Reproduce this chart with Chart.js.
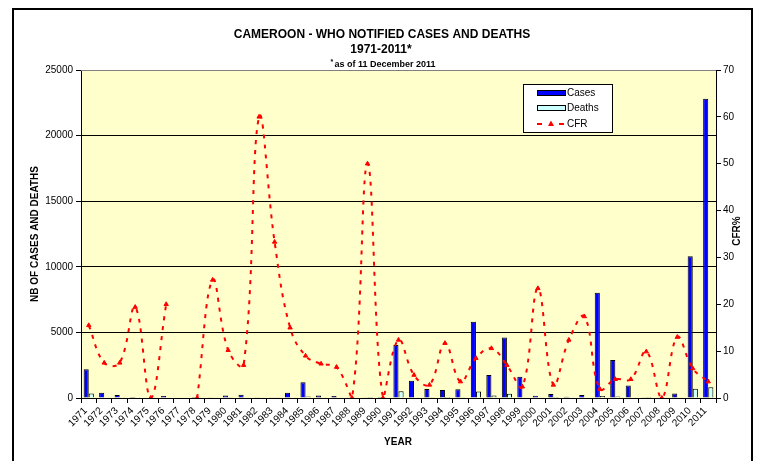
<!DOCTYPE html>
<html>
<head>
<meta charset="utf-8">
<script src="https://cdn.jsdelivr.net/npm/chart.js@4/dist/chart.umd.min.js"></script>
<style>
html,body{margin:0;padding:0;background:#fff;}
#wrap{width:758px;height:461px;position:relative;}
</style>
</head>
<body>
<div id="wrap"><canvas id="c" width="758" height="461"></canvas></div>
<script>
const years = ['1971','1972','1973','1974','1975','1976','1977','1978','1979','1980','1981','1982','1983','1984','1985','1986','1987','1988','1989','1990','1991','1992','1993','1994','1995','1996','1997','1998','1999','2000','2001','2002','2003','2004','2005','2006','2007','2008','2009','2010','2011'];
const cases = [2200,400,230,80,30,150,0,5,50,200,250,20,60,400,1200,200,150,20,10,5,4040,1320,690,610,660,5820,1750,4620,1620,180,300,100,230,8030,2900,960,20,10,350,10800,22800];
const deaths = [340,30,17,16,0,30,0,0,12,20,18,12,20,60,108,15,10,0,5,0,510,65,20,70,23,500,185,325,38,42,8,12,40,150,115,38,2,0,45,700,820];
const cfr = [15.5,7.5,7.5,19.4,0,20,null,0,25.2,10.2,7.0,60,33.3,15,9.0,7.3,6.6,0,50,0,12.4,4.9,2.8,11.7,3.5,8.5,10.6,7.0,2.4,23.4,2.8,12.4,17.4,1.9,4.0,4.0,9.9,0,13.0,6.3,3.5];
const leftTicks = [0,5000,10000,15000,20000,25000];
const rightTicks = [0,10,20,30,40,50,60,70];

const FONT = 'Arial, "Liberation Sans", sans-serif';

const decor = {
  id: 'decor',
  beforeDraw(chart) {
    const ctx = chart.ctx, a = chart.chartArea;
    ctx.save();
    ctx.fillStyle = '#ffffff';
    ctx.fillRect(0, 0, chart.width, chart.height);
    ctx.fillStyle = '#FFFFCC';
    ctx.fillRect(a.left, a.top, a.right - a.left, a.bottom - a.top);
    ctx.restore();
  },
  afterDraw(chart) {
    const ctx = chart.ctx, a = chart.chartArea;
    ctx.save();
    // outer frame
    ctx.strokeStyle = '#000';
    ctx.lineWidth = 2;
    ctx.strokeRect(13, 9, 739, 480);
    // plot top border
    ctx.strokeStyle = '#808080';
    ctx.lineWidth = 1;
    ctx.beginPath();
    ctx.moveTo(a.left, a.top + 0.5);
    ctx.lineTo(a.right, a.top + 0.5);
    ctx.stroke();
    // titles
    ctx.fillStyle = '#000';
    ctx.textAlign = 'center';
    ctx.textBaseline = 'alphabetic';
    ctx.font = 'bold 12px ' + FONT;
    ctx.fillText('CAMEROON - WHO NOTIFIED CASES AND DEATHS', 382, 38);
    ctx.fillText('1971-2011*', 381, 53);
    ctx.font = 'bold 9px ' + FONT;
    const sub = 'as of 11 December 2011';
    const w = ctx.measureText(sub).width;
    ctx.textAlign = 'left';
    const sx = 385 - w / 2;
    ctx.fillText(sub, sx, 67);
    ctx.font = 'bold 7px ' + FONT;
    ctx.fillText('*', sx - 4, 64);
    // axis titles
    ctx.font = 'bold 10px ' + FONT;
    ctx.textAlign = 'center';
    ctx.textBaseline = 'middle';
    ctx.fillText('YEAR', 398, 442);
    ctx.save();
    ctx.translate(35, 234);
    ctx.rotate(-Math.PI / 2);
    ctx.fillText('NB OF CASES AND DEATHS', 0, 0);
    ctx.restore();
    ctx.save();
    ctx.translate(737, 231);
    ctx.rotate(-Math.PI / 2);
    ctx.fillText('CFR%', 0, 0);
    ctx.restore();
    // legend
    const lx = 523, ly = 84, lw = 89, lh = 48;
    ctx.fillStyle = '#fff';
    ctx.fillRect(lx, ly, lw, lh);
    ctx.strokeStyle = '#000';
    ctx.lineWidth = 1;
    ctx.strokeRect(lx + 0.5, ly + 0.5, lw, lh);
    ctx.fillStyle = '#0000FF';
    ctx.fillRect(537, 90, 28, 5);
    ctx.strokeRect(537.5, 90.5, 28, 5);
    ctx.fillStyle = '#CCFFFF';
    ctx.fillRect(537, 105, 28, 5);
    ctx.strokeRect(537.5, 105.5, 28, 5);
    ctx.strokeStyle = '#FF0000';
    ctx.lineWidth = 2;
    ctx.beginPath();
    ctx.moveTo(537, 124); ctx.lineTo(542, 124);
    ctx.moveTo(559, 124); ctx.lineTo(564, 124);
    ctx.stroke();
    ctx.fillStyle = '#FF0000';
    ctx.beginPath();
    ctx.moveTo(551, 120.5); ctx.lineTo(554, 126); ctx.lineTo(548, 126); ctx.closePath();
    ctx.fill();
    ctx.fillStyle = '#000';
    ctx.font = '10px ' + FONT;
    ctx.textAlign = 'left';
    ctx.textBaseline = 'middle';
    ctx.fillText('Cases', 567, 93);
    ctx.fillText('Deaths', 567, 108);
    ctx.fillText('CFR', 567, 124);
    ctx.restore();
  }
};

new Chart(document.getElementById('c'), {
  data: {
    labels: years,
    datasets: [
      {
        type: 'line', label: 'CFR', data: cfr, yAxisID: 'y2', order: 0,
        borderColor: '#FF0000', backgroundColor: '#FF0000', borderWidth: 2,
        borderDash: [4, 6], tension: 0.4, spanGaps: false,
        pointStyle: 'triangle', pointRadius: 2.5, pointBorderWidth: 1,
        pointBackgroundColor: '#FF0000', pointBorderColor: '#FF0000'
      },
      {
        type: 'bar', label: 'Cases', data: cases, yAxisID: 'y', order: 1,
        backgroundColor: '#0000FF', borderColor: '#000', borderWidth: 1,
        categoryPercentage: 0.66, barPercentage: 1.0
      },
      {
        type: 'bar', label: 'Deaths', data: deaths, yAxisID: 'y', order: 1,
        backgroundColor: '#CCFFFF', borderColor: '#000', borderWidth: 1,
        categoryPercentage: 0.66, barPercentage: 1.0
      }
    ]
  },
  options: {
    responsive: false,
    animation: false,
    devicePixelRatio: 1,
    layout: { padding: { top: 70, left: 0, right: 0, bottom: 0 } },
    plugins: { legend: { display: false }, title: { display: false }, tooltip: { enabled: false } },
    scales: {
      x: {
        type: 'category',
        offset: true,
        grid: { display: true, drawOnChartArea: false, offset: true, tickLength: 5, tickColor: '#000' },
        border: { color: '#000', width: 1 },
        ticks: { autoSkip: false, maxRotation: 45, minRotation: 45, padding: 2, labelOffset: -3,
                 color: '#000', font: { family: FONT, size: 10 } },
        afterFit(s) { s.height = 63; }
      },
      y: {
        position: 'left', min: 0, max: 25000,
        afterBuildTicks(s) { s.ticks = leftTicks.map(v => ({ value: v })); },
        grid: { color: '#000', lineWidth: 1, tickLength: 5, tickColor: '#000' },
        border: { color: '#000', width: 1 },
        ticks: { padding: 3, color: '#000', font: { family: FONT, size: 10 }, callback: v => String(v) },
        afterFit(s) { s.width = 81; }
      },
      y2: {
        position: 'right', min: 0, max: 70,
        afterBuildTicks(s) { s.ticks = rightTicks.map(v => ({ value: v })); },
        grid: { drawOnChartArea: false, tickLength: 5, tickColor: '#000' },
        border: { color: '#000', width: 1 },
        ticks: { padding: 2, color: '#000', font: { family: FONT, size: 10 }, callback: v => String(v) },
        afterFit(s) { s.width = 42; }
      }
    }
  },
  plugins: [decor]
});
</script>
</body>
</html>
